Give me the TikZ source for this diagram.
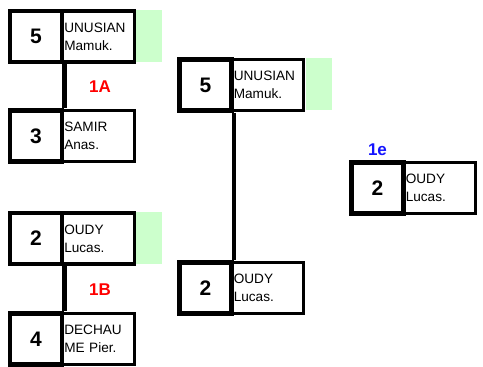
\documentclass[tikz,border=0pt]{standalone}
\usepackage{fontspec}
\setmainfont{Liberation Sans}
\usetikzlibrary{calc, positioning}
\definecolor{wingreen}{RGB}{204,255,204}
\definecolor{labred}{RGB}{255,0,0}
\definecolor{labblue}{RGB}{20,20,255}

\tikzset{
	score/.style={draw, line width=2.3pt, minimum width=26pt, minimum height=25.5pt, inner sep=0pt, font=\fontsize{10.5}{11}\selectfont\bfseries},
	player/.style={draw, line width=1.6pt, anchor=west, xshift=-2.3pt, minimum height=25.5pt, text width=33.5pt, inner xsep=1.5pt, inner ysep=0pt, align=left, font=\fontsize{6.8}{9}\selectfont},
	winner/.style={fill=wingreen, anchor=north west, minimum width=13pt, minimum height=26pt, inner sep=0pt},
	matchlabel/.style={font=\fontsize{8.5}{9}\selectfont\bfseries},
	link/.style={line width=2.2pt, xshift=-1.2pt}
}

\begin{document}
\begin{tikzpicture}[x=0.5pt, y=-0.5pt]
	\useasboundingbox (0,0) rectangle (483,367);

	% first round, match 1A
	\node[score] (s1) at (36,36.5) {5};
	\node[player] (p1) at (s1.east) {UNUSIAN\\Mamuk.};
	\node[winner] (w1) at (p1.north east) {};
	\node[score] (s2) at (36,136) {3};
	\node[player] (p2) at (s2.east) {SAMIR\\Anas.};
	\node[matchlabel, text=labred] (m1) at (100,87) {1A};
	\draw[link] (s1.south east) -- (s2.north east);

	% first round, match 1B
	\node[score] (s3) at (36,238.5) {2};
	\node[player] (p3) at (s3.east) {OUDY\\Lucas.};
	\node[winner] (w3) at (p3.north east) {};
	\node[score] (s4) at (36,339) {4};
	\node[player] (p4) at (s4.east) {DECHAU\\ME Pier.};
	\node[matchlabel, text=labred] (m2) at (100,290) {1B};
	\draw[link] (s3.south east) -- (s4.north east);

	% second round
	\node[score] (s5) at (205.5,85) {5};
	\node[player] (p5) at (s5.east) {UNUSIAN\\Mamuk.};
	\node[winner] (w5) at (p5.north east) {};
	\node[score] (s6) at (205.5,288) {2};
	\node[player] (p6) at (s6.east) {OUDY\\Lucas.};
	\draw[link] (s5.south east) -- (s6.north east);

	% final
	\node[score] (s7) at (377.5,188) {2};
	\node[player] (p7) at (s7.east) {OUDY\\Lucas.};
	\node[matchlabel, text=labblue, above=-1.5pt of s7] (m3) {1e};
\end{tikzpicture}
\end{document}
